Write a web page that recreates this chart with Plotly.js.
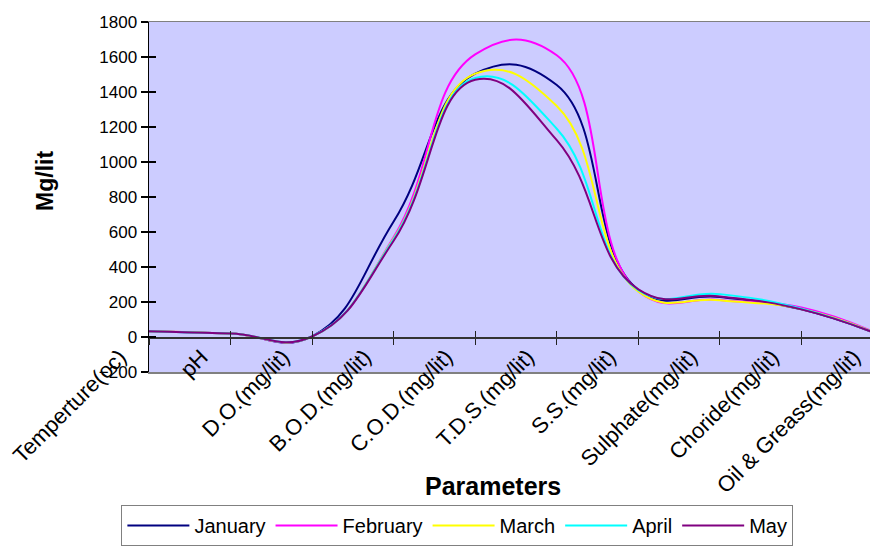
<!DOCTYPE html>
<html>
<head>
<meta charset="utf-8">
<script src="https://cdn.plot.ly/plotly-3.0.1.min.js"></script>
<style>html,body{margin:0;padding:0;background:#fff;overflow:hidden;}</style>
</head>
<body>
<div id="chart" style="width:885px;height:547px;"></div>
<script>
const categories = ['Temperture(oc)','pH','D.O.(mg/lit)','B.O.D.(mg/lit)','C.O.D.(mg/lit)','T.D.S.(mg/lit)','S.S.(mg/lit)','Sulphate(mg/lit)','Choride(mg/lit)','Oil & Greass(mg/lit)'];
const january  = [33, 20, 4, 660, 1505, 1440, 270, 228, 158, 5];
const february = [33, 20, 2, 570, 1615, 1610, 262, 212, 168, 5];
const march    = [33, 20, 2, 562, 1505, 1320, 260, 210, 160, 5];
const april    = [33, 20, 3, 558, 1480, 1190, 268, 245, 162, 5];
const may      = [33, 20, 3, 550, 1470, 1125, 272, 232, 158, 5];
const seriesNames = ['January','February','March','April','May'];
const seriesColors = ['#000080','#FF00FF','#FFFF00','#00FFFF','#800080'];
const yTicks = [-200,0,200,400,600,800,1000,1200,1400,1600,1800];

const idx = categories.map((c,i)=>i);
const allSeries = [january, february, march, april, may];
const FONT = 'Liberation Sans, Arial, sans-serif';

const traces = allSeries.map((vals,k)=>({
  x: idx, y: vals, name: seriesNames[k], type: 'scatter', mode: 'lines',
  line: {color: seriesColors[k], width: 2, shape: 'spline', smoothing: 1.3},
  xaxis: 'x', yaxis: 'y', hoverinfo: 'skip'
}));
traces.push({x: [], y: [], xaxis: 'x2', yaxis: 'y', showlegend: false, hoverinfo: 'skip'});
traces.push({x: [], y: [], xaxis: 'x3', yaxis: 'y', showlegend: false, hoverinfo: 'skip'});
traces.push({x: [], y: [], xaxis: 'x', yaxis: 'y2', showlegend: false, hoverinfo: 'skip'});

const xr = [0, 9.025];
const layout = {
  width: 885, height: 547,
  margin: {l: 149, r: 0, t: 22, b: 175},
  paper_bgcolor: '#ffffff',
  plot_bgcolor: '#CCCCFF',
  font: {family: FONT, color: '#000'},
  showlegend: true,
  xaxis: {
    range: xr, tickmode: 'array', tickvals: idx, ticktext: categories,
    tickangle: -45, ticks: '', showgrid: false, zeroline: false,
    showline: true, mirror: true, linecolor: '#808080', linewidth: 1.5,
    tickfont: {family: FONT, size: 22, color: '#000'},
    ticklabelshift: -29, ticklabelstandoff: -38
  },
  xaxis2: {
    overlaying: 'x', anchor: 'free', position: 0.1, range: xr,
    tickmode: 'array', tickvals: idx, ticks: 'outside', ticklen: 6, tickcolor: '#222', tickwidth: 1.2,
    showticklabels: false, showgrid: false, zeroline: false,
    showline: true, linecolor: '#333', linewidth: 1.5
  },
  xaxis3: {
    overlaying: 'x', anchor: 'free', position: 0.1, range: xr, side: 'bottom',
    tickmode: 'array', tickvals: idx, ticks: 'inside', ticklen: 6, tickcolor: '#222', tickwidth: 1.2,
    showticklabels: false, showgrid: false, zeroline: false, showline: false
  },
  yaxis: {
    range: [-200, 1800], tickmode: 'array', tickvals: yTicks,
    ticks: 'outside', ticklen: 7, tickcolor: '#000', tickwidth: 1.2,
    showline: true, linecolor: '#000', linewidth: 1.5,
    showgrid: false, zeroline: false,
    tickfont: {family: FONT, size: 17, color: '#000'}
  },
  yaxis2: {
    overlaying: 'y', side: 'left', range: [-200, 1800], tickmode: 'array', tickvals: yTicks,
    ticks: 'inside', ticklen: 7, tickcolor: '#000', tickwidth: 1.2,
    showticklabels: false, showline: false, showgrid: false, zeroline: false
  },
  legend: {
    orientation: 'h', x: 0.419, xanchor: 'center', y: -0.497, yanchor: 'bottom',
    bordercolor: '#808080', borderwidth: 1, bgcolor: '#ffffff', itemwidth: 62,
    font: {family: FONT, size: 20, color: '#000'}
  },
  annotations: [
    {text: '<b>Mg/lit</b>', xref: 'paper', yref: 'paper', x: -0.1413, y: 0.546,
     xanchor: 'center', yanchor: 'middle',
     textangle: -90, showarrow: false, font: {family: FONT, size: 23, color: '#000'}},
    {text: '<b>Parameters</b>', xref: 'paper', yref: 'paper', x: 0.467, y: -0.326,
     xanchor: 'center', yanchor: 'middle',
     showarrow: false, font: {family: FONT, size: 25, color: '#000'}}
  ]
};
Plotly.newPlot('chart', traces, layout, {staticPlot: true, displayModeBar: false});
</script>
</body>
</html>
